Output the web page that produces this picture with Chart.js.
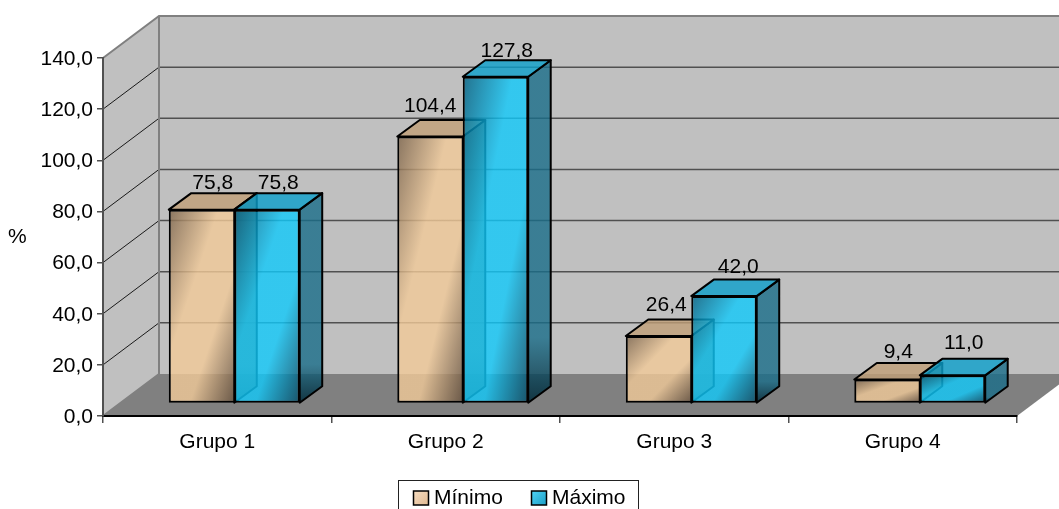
<!doctype html>
<html>
  <head>
    <meta charset="utf-8">
    <title>Mínimo e Máximo por grupo</title>
    <style>
      html, body { margin: 0; padding: 0; background: #fff; overflow: hidden; }
      canvas { display: block; }
    </style>
  </head>
  <body>
    <canvas id="bar_chart" width="1059" height="509"></canvas>
  </body>
  <script src="https://cdn.jsdelivr.net/npm/chart.js"></script>
  <script>
    const categories = ['Grupo 1', 'Grupo 2', 'Grupo 3', 'Grupo 4'];
    const minimo = [75.8, 104.4, 26.4, 9.4];
    const maximo = [75.8, 127.8, 42.0, 11.0];
    const seriesNames = ['Mínimo', 'Máximo'];
    const yTicks = { min: 0, max: 140, step: 20 };

    const FONT = '21px "Liberation Sans", Arial, sans-serif';
    // Fake 3D: how far the back wall sits from the axes, where the bars stand
    // on the floor, and how deep each bar is
    const WALL = { dx: 56, dy: -42 };
    const BAR_SHIFT = { dx: 17, dy: -12.5 };
    const BAR_DEPTH = { dx: 22.5, dy: -16.5 };
    // Hand placed value labels, nudged [x, y] per series and group so they clear each other
    const LABEL_NUDGE = [
      [[0, 0], [-11, -4], [-3.5, -4], [0, -1]],
      [[0, 0], [0, 1], [3, -3], [0, -6]]
    ];

    // The bars are see-through: walls, gridlines and hidden edges show behind them
    const PALETTE = [
      {
        dark: 'rgba(100,78,58,0.8)', mid: 'rgba(125,100,74,0.82)', light: 'rgba(242,202,152,0.8)',
        top: 'rgba(192,159,119,0.8)', side: ['rgba(120,95,70,0.8)', 'rgba(70,55,40,0.85)']
      },
      {
        dark: 'rgba(0,72,100,0.8)', mid: 'rgba(0,96,130,0.82)', light: 'rgba(16,201,250,0.8)',
        top: 'rgba(11,159,203,0.8)', side: ['rgba(25,109,137,0.8)', 'rgba(0,40,55,0.85)']
      }
    ];

    function fmt(v) {
      return v.toFixed(1).replace('.', ',');
    }

    // Diagonal shading with the bands running along the bar's other diagonal
    function faceGradient(context, colors) {
      const chart = context.chart;
      const value = context.raw;
      if (value === undefined || !chart.chartArea) return colors.light;
      const w = chart.scales.x.width / categories.length * 0.573 / 2;
      const center = chart.scales.x.getPixelForValue(context.dataIndex) + (context.datasetIndex === 0 ? -w / 2 : w / 2);
      const y0 = chart.scales.y.getPixelForValue(value);
      const y1 = chart.scales.y.getPixelForValue(0);
      const h = y1 - y0;
      const len = Math.sqrt(w * w + h * h);
      const d = w * h / len;
      const cy = (y0 + y1) / 2;
      const nx = h / len;
      const ny = w / len;
      const g = chart.ctx.createLinearGradient(center - nx * d, cy - ny * d, center + nx * d, cy + ny * d);
      g.addColorStop(0, colors.mid);
      g.addColorStop(0.38, colors.light);
      g.addColorStop(0.66, colors.light);
      g.addColorStop(1, colors.dark);
      return g;
    }

    function poly(ctx, pts) {
      ctx.beginPath();
      ctx.moveTo(pts[0][0], pts[0][1]);
      for (let i = 1; i < pts.length; i++) ctx.lineTo(pts[i][0], pts[i][1]);
      ctx.closePath();
    }

    const walls = {
      id: 'walls',
      beforeDraw(chart) {
        const ctx = chart.ctx;
        const a = chart.chartArea;
        const y = chart.scales.y;
        const bx = a.left + WALL.dx;
        const farX = a.right + WALL.dx;
        const top = y.getPixelForValue(yTicks.max);
        const bottom = y.getPixelForValue(0);
        ctx.save();

        // left wall and back wall
        ctx.fillStyle = '#c0c0c0';
        poly(ctx, [[a.left, top], [bx, top + WALL.dy], [bx, bottom + WALL.dy], [a.left, bottom]]);
        ctx.fill();
        ctx.fillRect(bx, top + WALL.dy, farX - bx, bottom - top);

        // floor
        ctx.fillStyle = '#808080';
        poly(ctx, [[a.left, bottom], [bx, bottom + WALL.dy], [farX, bottom + WALL.dy], [a.right, bottom]]);
        ctx.fill();

        // gridlines across both walls
        for (let v = yTicks.step; v < yTicks.max; v += yTicks.step) {
          const p = y.getPixelForValue(v);
          ctx.strokeStyle = '#1a1a1a';
          ctx.lineWidth = 1;
          ctx.beginPath();
          ctx.moveTo(a.left, p);
          ctx.lineTo(bx, p + WALL.dy);
          ctx.stroke();
          ctx.strokeStyle = '#505050';
          ctx.lineWidth = 1.5;
          ctx.beginPath();
          ctx.moveTo(bx, p + WALL.dy);
          ctx.lineTo(farX, p + WALL.dy);
          ctx.stroke();
        }

        // wall outline
        ctx.strokeStyle = '#808080';
        ctx.lineWidth = 2;
        ctx.beginPath();
        ctx.moveTo(a.left, top);
        ctx.lineTo(bx, top + WALL.dy);
        ctx.lineTo(farX, top + WALL.dy);
        ctx.moveTo(bx, top + WALL.dy);
        ctx.lineTo(bx, bottom + WALL.dy);
        ctx.lineTo(a.left, bottom);
        ctx.stroke();

        ctx.restore();
      }
    };

    function drawDepth(ctx, bar, colors) {
      const dx = BAR_DEPTH.dx;
      const dy = BAR_DEPTH.dy;
      const x0 = bar.x - bar.width / 2;
      const x1 = bar.x + bar.width / 2;
      const y0 = bar.y;
      const y1 = bar.base;

      ctx.lineWidth = 2;
      ctx.lineJoin = 'round';
      ctx.strokeStyle = '#000';

      const g = ctx.createLinearGradient(0, y0, 0, y1);
      g.addColorStop(0, colors.side[0]);
      g.addColorStop(0.8, colors.side[0]);
      g.addColorStop(1, colors.side[1]);
      ctx.fillStyle = g;
      poly(ctx, [[x1, y0], [x1 + dx, y0 + dy], [x1 + dx, y1 + dy], [x1, y1]]);
      ctx.fill();
      ctx.stroke();

      ctx.fillStyle = colors.top;
      poly(ctx, [[x0, y0], [x0 + dx, y0 + dy], [x1 + dx, y0 + dy], [x1, y0]]);
      ctx.fill();
      ctx.stroke();
    }

    // Chart.js paints the leftmost bar last; here the right-hand series has to
    // overlap the left one, so the datasets are drawn in index order instead
    const bars3d = {
      id: 'bars3d',
      beforeDatasetsDraw(chart) {
        const ctx = chart.ctx;
        chart.data.datasets.forEach(function (ds, i) {
          const meta = chart.getDatasetMeta(i);
          ctx.save();
          ctx.translate(BAR_SHIFT.dx, BAR_SHIFT.dy);
          meta.controller.draw();
          meta.data.forEach(function (bar) { drawDepth(ctx, bar, PALETTE[i]); });
          ctx.restore();
        });

        // value labels, centred over the top face
        ctx.save();
        ctx.font = FONT;
        ctx.fillStyle = '#000';
        ctx.textAlign = 'center';
        ctx.textBaseline = 'alphabetic';
        chart.data.datasets.forEach(function (ds, i) {
          chart.getDatasetMeta(i).data.forEach(function (bar, j) {
            const x = bar.x + BAR_SHIFT.dx + BAR_DEPTH.dx / 2 + LABEL_NUDGE[i][j][0];
            const y = bar.y + BAR_SHIFT.dy + BAR_DEPTH.dy - 4 + LABEL_NUDGE[i][j][1];
            ctx.fillText(fmt(ds.data[j]), x, y);
          });
        });
        ctx.restore();
        return false;
      }
    };

    // Axis unit and the boxed legend, which runs off the bottom of the canvas
    const extras = {
      id: 'extras',
      afterDraw(chart) {
        const ctx = chart.ctx;
        ctx.save();
        ctx.font = FONT;
        ctx.fillStyle = '#000';
        ctx.textBaseline = 'middle';
        ctx.fillText('%', 8, 237);

        ctx.strokeStyle = '#222';
        ctx.lineWidth = 1;
        ctx.fillStyle = '#fff';
        ctx.fillRect(398.5, 480.5, 240, 40);
        ctx.strokeRect(398.5, 480.5, 240, 40);

        const boxX = [413.5, 531.5];
        const swatches = [['#f6dcc0', '#e0b890'], ['#50d4f6', '#1a9cc4']];
        chart.data.datasets.forEach(function (ds, i) {
          const g = ctx.createLinearGradient(boxX[i], 491, boxX[i] + 15, 506);
          g.addColorStop(0, swatches[i][0]);
          g.addColorStop(1, swatches[i][1]);
          ctx.fillStyle = g;
          ctx.fillRect(boxX[i], 491, 15, 14);
          ctx.strokeStyle = '#000';
          ctx.lineWidth = 1.5;
          ctx.strokeRect(boxX[i], 491, 15, 14);
          ctx.fillStyle = '#000';
          ctx.fillText(ds.label, boxX[i] + 20.5, 498);
        });
        ctx.restore();
      }
    };

    const chart = new Chart(document.getElementById('bar_chart'), {
      type: 'bar',
      data: {
        labels: categories,
        datasets: [{
          label: seriesNames[0],
          data: minimo,
          backgroundColor: function (c) { return faceGradient(c, PALETTE[0]); },
          borderColor: '#000',
          borderWidth: { top: 2, left: 2, bottom: 2, right: 0 },
          borderSkipped: false
        }, {
          label: seriesNames[1],
          data: maximo,
          backgroundColor: function (c) { return faceGradient(c, PALETTE[1]); },
          borderColor: '#000',
          borderWidth: 2,
          borderSkipped: false
        }]
      },
      options: {
        responsive: false,
        animation: false,
        layout: { padding: { left: 0, top: 58, right: 42, bottom: 33 } },
        categoryPercentage: 0.573,
        barPercentage: 1,
        plugins: {
          legend: { display: false },
          tooltip: { enabled: false }
        },
        scales: {
          x: {
            afterFit: function (scale) { scale.height = 60; },
            grid: { drawOnChartArea: false, color: '#505050', tickLength: 7, lineWidth: 1.5 },
            border: { color: '#000', width: 2 },
            ticks: { color: '#000', font: { family: '"Liberation Sans", Arial, sans-serif', size: 21 }, padding: 7, maxRotation: 0 }
          },
          y: {
            min: yTicks.min,
            max: yTicks.max,
            afterFit: function (scale) { scale.width = 103; },
            grid: { drawOnChartArea: false, color: '#505050', tickLength: 6, lineWidth: 1.5 },
            border: { color: '#505050', width: 2 },
            ticks: {
              stepSize: yTicks.step,
              color: '#000',
              padding: 4,
              labelOffset: 1,
              font: { family: '"Liberation Sans", Arial, sans-serif', size: 21 },
              callback: function (v) { return fmt(v); }
            }
          }
        }
      },
      plugins: [walls, bars3d, extras]
    });
  </script>
</html>
